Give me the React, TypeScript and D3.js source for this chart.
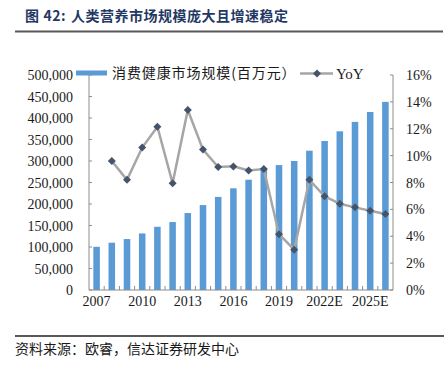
import React from "react";
import * as d3 from "d3";

const years = [
    "2007", "2008", "2009", "2010", "2011", "2012", "2013", "2014", "2015", "2016",
    "2017", "2018", "2019", "2020", "2021", "2022E", "2023E", "2024E", "2025E", "2026E",
];
const marketSize = [
    100500, 110000, 118500, 131500, 147000, 158000, 179000, 197500, 216500, 236500,
    256500, 283000, 290500, 300000, 324000, 346500, 369000, 391000, 414000, 437500,
];
const yoy: (number | null)[] = [
    null, 9.6, 8.2, 10.6, 12.15, 7.95, 13.4, 10.45, 9.15, 9.2,
    8.9, 9.0, 4.15, 3.0, 8.2, 6.97, 6.42, 6.15, 5.9, 5.66,
];
const leftTicks = [0, 50000, 100000, 150000, 200000, 250000, 300000, 350000, 400000, 450000, 500000];
const rightTicks = [0, 2, 4, 6, 8, 10, 12, 14, 16];
const xLabelYears = ["2007", "2010", "2013", "2016", "2019", "2022E", "2025E"];

const titleNo = "图 42:";
const title = "人类营养市场规模庞大且增速稳定";
const source = "资料来源：欧睿，信达证券研发中心";
const barLegend = "消费健康市场规模(百万元）";
const lineLegend = "YoY";

const serif = "'Liberation Serif', 'Times New Roman', serif";
const cjk = "'Noto Sans CJK SC', sans-serif";

function Diamond(props: { x: number, y: number, r: number }): React.JSX.Element {
    const { x, y, r } = props;
    return <path d={`M${x},${y - r}L${x + r},${y}L${x},${y + r}L${x - r},${y}Z`} fill="#44546a" />;
}

export default function App() {
    const width = 448;
    const height = 366;
    const plot = { left: 89, right: 393, top: 75, bottom: 290 };

    const x = d3.scaleBand<string>()
        .domain(years)
        .range([plot.left, plot.right])
        .paddingInner(0.57)
        .paddingOuter(0.285);
    const yLeft = d3.scaleLinear([0, 500000], [plot.bottom, plot.top]);
    const yRight = d3.scaleLinear([0, 16], [plot.bottom, plot.top]);
    const fmt = d3.format(",");
    const cx = (d: string) => x(d)! + x.bandwidth() / 2;

    const pts = years
        .map((d, i) => ({ d, v: yoy[i] }))
        .filter((p) => p.v !== null) as { d: string, v: number }[];
    const line = d3.line<{ d: string, v: number }>()
        .x((p) => cx(p.d))
        .y((p) => yRight(p.v));

    const axisColor = "#8c8c8c";
    const step = x.step();

    return <svg width={width} height={height} style={{ position: "absolute", left: 0, top: 0 }}>
        <rect width={width} height={height} fill="white" />

        {/* title */}
        <text x={25} y={21} fontFamily={cjk} fontSize={14} fontWeight="bold" fill="#1f3864" style={{ whiteSpace: "pre" }} letterSpacing={0.6}>{titleNo}</text>
        <text x={71} y={21} fontFamily={cjk} fontSize={14} fontWeight="bold" fill="#1f3864" letterSpacing={0.5}>{title}</text>
        <line x1={15} x2={443} y1={31.5} y2={31.5} stroke="#595959" strokeWidth={2} />

        {/* bars */}
        {years.map((d, i) => (
            <rect key={d} x={x(d)} y={yLeft(marketSize[i])} width={x.bandwidth()}
                height={plot.bottom - yLeft(marketSize[i])} fill="#5b9bd5" />
        ))}

        {/* axes */}
        <line x1={plot.left} x2={plot.left} y1={plot.top} y2={plot.bottom} stroke={axisColor} />
        <line x1={plot.right} x2={plot.right} y1={plot.top} y2={plot.bottom} stroke={axisColor} />
        <line x1={plot.left} x2={plot.right} y1={plot.bottom} y2={plot.bottom} stroke={axisColor} />
        {leftTicks.map((t) => (
            <g key={t}>
                <line x1={plot.left} x2={plot.left + 3} y1={yLeft(t)} y2={yLeft(t)} stroke={axisColor} />
                <text x={73} y={yLeft(t) + 5} textAnchor="end" fontFamily={serif} fontSize={14} fill="#1a1a1a">{fmt(t)}</text>
            </g>
        ))}
        {rightTicks.map((t) => (
            <g key={t}>
                <line x1={plot.right - 3} x2={plot.right} y1={yRight(t)} y2={yRight(t)} stroke={axisColor} />
                <text x={406} y={yRight(t) + 5} textAnchor="start" fontFamily={serif} fontSize={14} fill="#1a1a1a">{t}%</text>
            </g>
        ))}
        {years.slice(1).map((d) => (
            <line key={d} x1={x(d)! - (step - x.bandwidth()) / 2} x2={x(d)! - (step - x.bandwidth()) / 2}
                y1={plot.bottom - 4} y2={plot.bottom} stroke={axisColor} />
        ))}
        {xLabelYears.map((d) => (
            <text key={d} x={cx(d)} y={306} textAnchor="middle" fontFamily={serif} fontSize={14} fill="#1a1a1a">{d}</text>
        ))}

        {/* yoy line */}
        <path d={line(pts)!} fill="none" stroke="#a6a6a6" strokeWidth={2.5} />
        {pts.map((p) => <Diamond key={p.d} x={cx(p.d)} y={yRight(p.v)} r={4} />)}

        {/* legend */}
        <rect x={76} y={70.5} width={31} height={5} fill="#5b9bd5" />
        <text x={112} y={78} fontFamily={cjk} fontSize={14} fill="#1a1a1a" letterSpacing={0.9}>{barLegend}</text>
        <line x1={300} x2={333} y1={73.5} y2={73.5} stroke="#a6a6a6" strokeWidth={2.5} />
        <Diamond x={317} y={73.5} r={4} />
        <text x={336} y={78.5} fontFamily={serif} fontSize={15} fill="#1a1a1a">{lineLegend}</text>

        {/* footer */}
        <line x1={15} x2={444} y1={336} y2={336} stroke="#595959" strokeWidth={2} />
        <text x={15} y={354} fontFamily={cjk} fontSize={14} fill="#1a1a1a">{source}</text>
    </svg>;
}
